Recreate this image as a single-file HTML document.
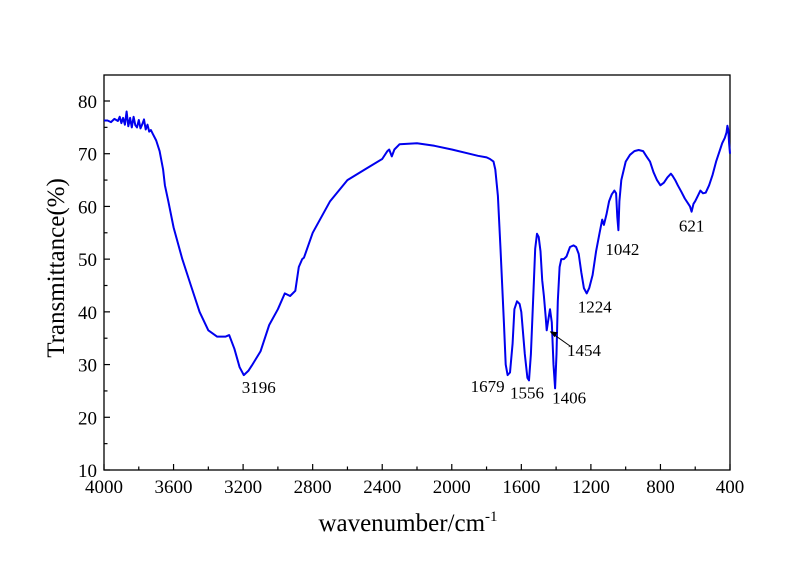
<!DOCTYPE html>
<html><head><meta charset="utf-8">
<style>
html,body{margin:0;padding:0;background:#fff;}
svg{display:block;font-family:"Liberation Serif",serif;}
</style></head>
<body>
<svg id="chart" width="800" height="575" viewBox="0 0 800 575" xmlns="http://www.w3.org/2000/svg">
<g id="axes"></g>
<g id="series"></g>
<g id="labels"></g>
</svg>
<script>
const wavenumbers = [4000,3980,3960,3940,3920,3910,3900,3890,3880,3870,3860,3850,3840,3830,3820,3810,3800,3790,3780,3770,3760,3750,3740,3730,3720,3700,3680,3660,3650,3630,3600,3550,3500,3450,3400,3350,3300,3280,3250,3220,3196,3170,3150,3100,3050,3000,2960,2930,2900,2880,2860,2850,2800,2700,2600,2500,2400,2370,2360,2345,2330,2300,2200,2100,2000,1900,1850,1800,1780,1760,1750,1735,1720,1700,1690,1679,1665,1650,1640,1625,1610,1600,1580,1565,1556,1545,1530,1520,1510,1500,1490,1480,1470,1460,1454,1445,1435,1425,1415,1406,1398,1390,1380,1370,1355,1340,1320,1300,1285,1270,1255,1240,1224,1210,1190,1170,1150,1135,1125,1110,1095,1080,1065,1055,1048,1042,1036,1025,1000,975,950,925,900,880,860,840,820,800,780,760,740,730,715,700,680,660,640,630,621,610,600,585,570,555,540,520,500,480,460,445,430,420,415,410,405,400];
const transmittance = [76.3,76.3,76.0,76.6,76.2,77.0,75.8,76.8,75.5,78.0,75.2,76.8,75.0,77.0,75.4,75.0,76.4,74.8,75.6,76.5,74.6,75.5,74.2,74.5,73.8,72.5,70.5,67,64,61,56,50,45,40,36.5,35.3,35.3,35.6,33,29.5,28,28.8,29.8,32.5,37.5,40.5,43.5,43,44,48.5,50,50.3,55,61,65,67,69,70.5,70.8,69.5,70.8,71.8,72,71.5,70.8,70,69.6,69.3,69,68.5,67,62,52,38,30,28,28.5,34,40.5,42,41.5,40,32,27.5,27,32,44,52,54.8,54.2,51.5,46,43,39,36.5,38.5,40.5,38,30,25.5,32,42,48.5,50,50,50.5,52.3,52.6,52.3,51,47.5,44.5,43.5,44.5,47,51.5,55,57.5,56.5,58.5,61,62.3,63,62.5,58,55.5,61,65,68.5,69.8,70.5,70.7,70.5,69.5,68.5,66.5,65,64,64.5,65.5,66.2,65.8,65,64,62.8,61.5,60.5,60,59,60.5,61,62,63,62.5,62.6,64,66,68.5,70.5,72,73,74,75.3,74.5,72,70];
const xTicks = [4000,3600,3200,2800,2400,2000,1600,1200,800,400];
const yTicks = [10,20,30,40,50,60,70,80];
const peakLabels = ["3196","1679","1556","1406","1454","1224","1042","621"];
const peakWn = [3196,1679,1556,1406,1454,1224,1042,621];
const peakT = [28,28,27,25.5,36.5,43.5,55.5,59];

const L=104,R=730,T=75,B=470;
const xS = w => L + (4000-w)/3600*(R-L);
const yS = v => 470 - (v-10)/70*(470-101);
const NS="http://www.w3.org/2000/svg";
function mk(tag,attrs,parent,text){const e=document.createElementNS(NS,tag);for(const k in attrs)e.setAttribute(k,attrs[k]);if(text!==undefined)e.textContent=text;parent.appendChild(e);return e;}
const axes=document.getElementById('axes'),series=document.getElementById('series'),labels=document.getElementById('labels');

const frame=mk('rect',{x:L,y:T,width:R-L,height:B-T,fill:'none',stroke:'#000','stroke-width':1.3},axes);



xTicks.forEach((w,i)=>{
  const x=xS(w);
  const t=mk('line',{x1:x,y1:B,x2:x,y2:B-6,stroke:'#000','stroke-width':1.2},axes);
  
  
  if(i<xTicks.length-1){const xm=xS(w-200);const m=mk('line',{x1:xm,y1:B,x2:xm,y2:B-3.5,stroke:'#000','stroke-width':1.2},axes);
  
  }
  const lb=mk('text',{x:x,y:B+23,'text-anchor':'middle','font-size':19},axes,String(w));
  
  
});
yTicks.forEach((v,i)=>{
  const y=yS(v);
  const t=mk('line',{x1:L,y1:y,x2:L+6,y2:y,stroke:'#000','stroke-width':1.2},axes);
  
  
  if(i<yTicks.length-1){const ym=yS(v+5);const m=mk('line',{x1:L,y1:ym,x2:L+3.5,y2:ym,stroke:'#000','stroke-width':1.2},axes);
  
  }
  const lb=mk('text',{x:L-7,y:y+7,'text-anchor':'end','font-size':19},axes,String(v));
  
  
});
const xt=mk('text',{x:408,y:531,'text-anchor':'middle','font-size':25},axes,'wavenumber/cm');


mk('tspan',{dy:-10,'font-size':15},xt,'-1');
const yt=mk('text',{x:0,y:0,'text-anchor':'middle','font-size':25,transform:'translate(64,268) rotate(-90)'},axes,'Transmittance(%)');



const d=wavenumbers.map((w,i)=>(i?'L':'M')+xS(w).toFixed(1)+','+yS(transmittance[i]).toFixed(1)).join(' ');
const p=mk('path',{d:d,fill:'none',stroke:'#0000ee','stroke-width':2,'stroke-linejoin':'round'},series);



const offs=[[15,18],[-20,17],[-2,18],[14,15],[null],[8,19],[4,25],[0,20]];
peakLabels.forEach((s,i)=>{
  let x=xS(peakWn[i]),y=yS(peakT[i]);
  let tx,ty;
  if(s==="1454"){tx=584;ty=356;
    const a=mk('line',{x1:570,y1:346,x2:x+4,y2:y+2,stroke:'#000','stroke-width':1},labels);
    
    
    const h=mk('polygon',{points:`${x+3},${y+1} ${x+11},${y+2} ${x+8},${y+7}`,fill:'#000'},labels);
    
    
  } else {tx=x+offs[i][0];ty=y+offs[i][1];}
  const lb=mk('text',{x:tx,y:ty,'text-anchor':'middle','font-size':17},labels,s);
  
  
});
</script>
</body></html>
